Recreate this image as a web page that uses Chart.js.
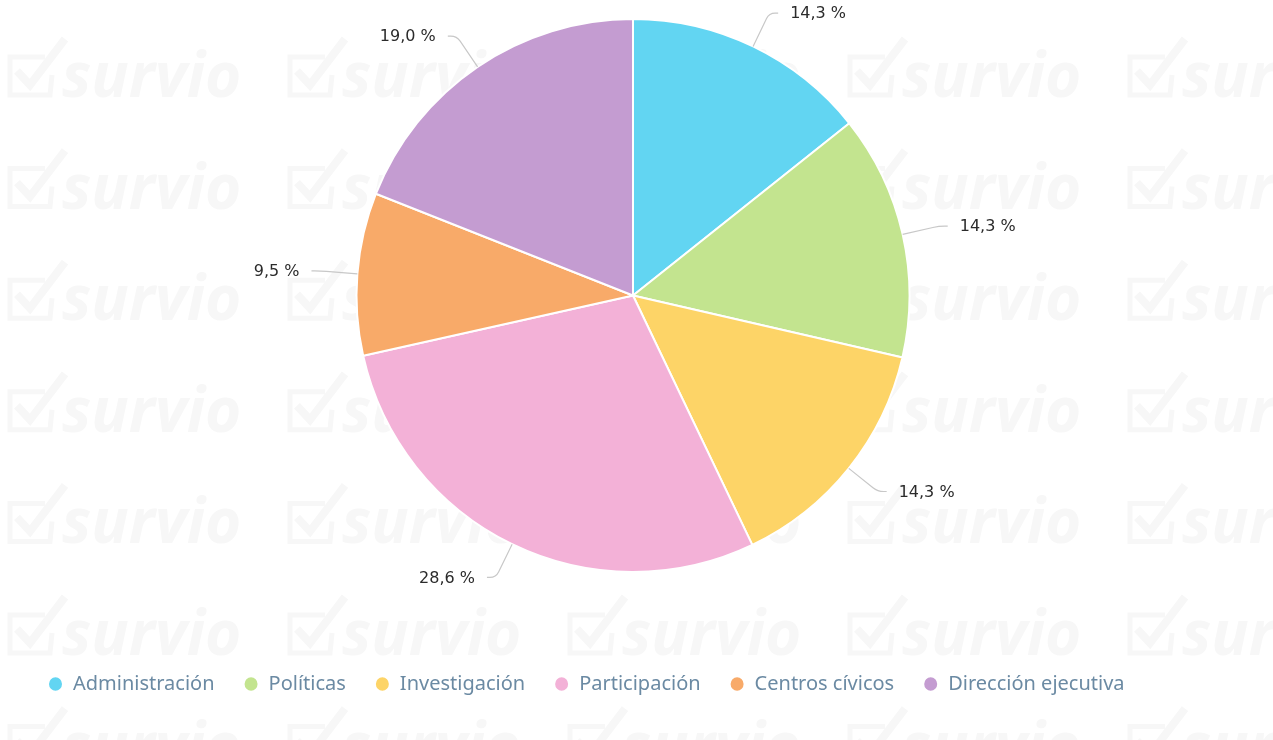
<!DOCTYPE html>
<html>
<head>
<meta charset="utf-8">
<script src="https://cdn.jsdelivr.net/npm/chart.js@4/dist/chart.umd.min.js"></script>
<style>
  html, body { margin: 0; padding: 0; background: #fff; }
  #wrap { width: 1273px; height: 740px; position: relative; }
</style>
</head>
<body>
<div id="wrap"><canvas id="resultPlot"></canvas></div>
<script>
var categories = ['Administración', 'Políticas', 'Investigación', 'Participación', 'Centros cívicos', 'Dirección ejecutiva'];
var percentages = [14.3, 14.3, 14.3, 28.6, 9.5, 19.0];
var sliceColors = ['#62d5f2', '#c3e48f', '#fdd467', '#f3b1d7', '#f8aa69', '#c49cd1'];

/**
 * Faint tiled logo behind the pie
 */
var watermarkPlugin = {
    id: 'watermark',
    beforeDraw: function(chart){
        let ctx = chart.ctx;
        ctx.save();
        ctx.fillStyle = '#f7f7f7';
        ctx.strokeStyle = '#f7f7f7';
        ctx.lineWidth = 5;
        ctx.font = 'italic bold 62px "Open Sans", "DejaVu Sans", sans-serif';
        ctx.textBaseline = 'alphabetic';
        for (let row = 0; row < 7; row++){
            let y = 97 + row * 111.6;
            for (let col = 0; col < 5; col++){
                let x = 5 + col * 280;
                // box with a tick
                ctx.beginPath();
                ctx.moveTo(x + 40, y - 40);
                ctx.lineTo(x + 5, y - 40);
                ctx.lineTo(x + 5, y - 2);
                ctx.lineTo(x + 45, y - 2);
                ctx.lineTo(x + 47, y - 22);
                ctx.stroke();
                ctx.beginPath();
                ctx.moveTo(x + 12, y - 26);
                ctx.lineTo(x + 25, y - 12);
                ctx.lineTo(x + 60, y - 58);
                ctx.lineWidth = 8;
                ctx.stroke();
                ctx.lineWidth = 5;
                ctx.fillText('survio', x + 57, y);
            }
        }
        ctx.restore();
    }
};

/**
 * Percentage labels outside the slices with leader lines
 */
var outsideLabelsPlugin = {
    id: 'outsideLabels',
    afterDatasetsDraw: function(chart){
        let ctx = chart.ctx;
        let arcs = chart.getDatasetMeta(0).data;
        ctx.save();
        ctx.font = '16px "DejaVu Sans", sans-serif';
        ctx.fillStyle = '#2b2b2b';
        ctx.strokeStyle = '#c8c8c8';
        ctx.lineWidth = 1.2;
        ctx.textBaseline = 'middle';
        for (let i = 0; i < arcs.length; i++){
            let arc = arcs[i];
            let mid = (arc.startAngle + arc.endAngle) / 2;
            let cx = arc.x, cy = arc.y, r = arc.outerRadius;
            let dx = Math.cos(mid), dy = Math.sin(mid);
            let side = dx >= 0 ? 1 : -1;
            let x0 = cx + r * dx, y0 = cy + r * dy;
            let x1 = cx + (r + 37) * dx, y1 = cy + (r + 37) * dy;
            ctx.beginPath();
            ctx.moveTo(x0, y0);
            ctx.lineTo(x1 - 6 * dx, y1 - 6 * dy);
            ctx.quadraticCurveTo(x1, y1, x1 + side * 6, y1);
            ctx.lineTo(x1 + side * 9, y1);
            ctx.stroke();
            let text = percentages[i].toFixed(1).replace('.', ',') + ' %';
            ctx.textAlign = side > 0 ? 'left' : 'right';
            ctx.fillText(text, x1 + side * 21, y1 + 1);
        }
        ctx.restore();
    }
};

function draw(){
    let plotArea = document.getElementById('resultPlot');
    let chartObject = {};
    chartObject['type'] = 'pie';
    chartObject['data'] = {
        labels: categories,
        datasets: [{
            data: percentages,
            backgroundColor: sliceColors,
            borderColor: '#ffffff',
            borderWidth: 2
        }]
    };
    chartObject['options'] = {
        responsive: true,
        maintainAspectRatio: false,
        animation: false,
        layout: {padding: {top: 18, left: 19, right: 26, bottom: 36}},
        plugins: {
            tooltip: {enabled: false},
            legend: {
                position: 'bottom',
                align: 'start',
                title: {display: true, text: '', font: {size: 12}, padding: {top: 57.6, bottom: 0}},
                labels: {
                    usePointStyle: true,
                    pointStyle: 'circle',
                    boxWidth: 15,
                    boxHeight: 11,
                    pointStyleWidth: 15,
                    padding: 29,
                    color: '#6b8aa3',
                    font: {family: '"Noto Sans", "Open Sans", sans-serif', size: 20}
                }
            }
        }
    };
    chartObject['plugins'] = [watermarkPlugin, outsideLabelsPlugin];
    plot = new Chart(plotArea, chartObject);
}

draw();
</script>
</body>
</html>
